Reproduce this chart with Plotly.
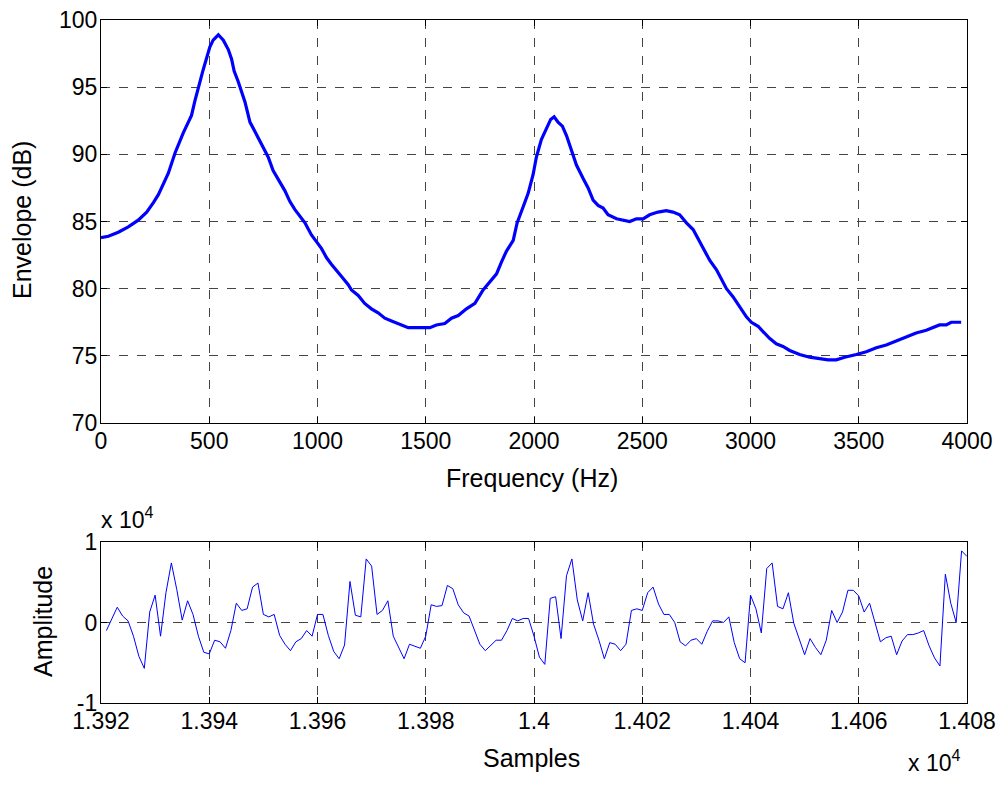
import plotly.graph_objects as go

# ---------------- data ----------------
freq_hz = [0, 34, 80, 126, 172, 211, 242, 265, 311, 342, 380, 418, 434, 449, 472, 503, 518, 542,
           565, 588, 603, 615, 634, 665, 688, 711, 742, 772, 795, 818, 849, 872, 895, 942, 972,
           995, 1018, 1042, 1065, 1111, 1142, 1157, 1188, 1218, 1249, 1280, 1311, 1342, 1373,
           1419, 1457, 1519, 1549, 1588, 1619, 1650, 1688, 1727, 1765, 1796, 1827, 1850, 1873,
           1904, 1922, 1950, 1973, 1996, 2011, 2034, 2057, 2077, 2093, 2111, 2131, 2150, 2173,
           2196, 2227, 2250, 2273, 2296, 2319, 2342, 2381, 2411, 2442, 2473, 2504, 2534, 2573,
           2611, 2642, 2673, 2704, 2735, 2758, 2781, 2812, 2843, 2866, 2889, 2919, 2950, 2981,
           3004, 3035, 3058, 3088, 3119, 3150, 3181, 3227, 3273, 3319, 3358, 3396, 3435, 3489,
           3535, 3581, 3627, 3673, 3719, 3765, 3812, 3842, 3873, 3904, 3927, 3973]
envelope_db = [83.8, 83.9, 84.2, 84.6, 85.1, 85.7, 86.4, 87.0, 88.6, 90.1, 91.6, 92.9, 94.0, 95.0,
               96.3, 98.0, 98.5, 98.9, 98.5, 97.8, 97.1, 96.2, 95.4, 93.9, 92.4, 91.7, 90.7, 89.8,
               88.8, 88.2, 87.3, 86.5, 85.9, 84.9, 84.0, 83.5, 83.0, 82.3, 81.8, 80.9, 80.3, 79.9,
               79.5, 78.9, 78.5, 78.2, 77.8, 77.6, 77.4, 77.1, 77.1, 77.1, 77.3, 77.4, 77.8, 78.0,
               78.5, 78.9, 79.9, 80.5, 81.1, 82.0, 82.8, 83.6, 84.9, 86.1, 87.1, 88.5, 89.8, 91.1,
               91.9, 92.6, 92.8, 92.4, 92.1, 91.4, 90.3, 89.2, 88.2, 87.5, 86.6, 86.2, 86.0, 85.5,
               85.2, 85.1, 85.0, 85.2, 85.2, 85.5, 85.7, 85.8, 85.7, 85.5, 84.9, 84.4, 83.7, 83.0,
               82.1, 81.4, 80.7, 80.0, 79.4, 78.7, 77.9, 77.5, 77.2, 76.8, 76.3, 75.9, 75.7, 75.4,
               75.1, 74.9, 74.8, 74.7, 74.7, 74.9, 75.1, 75.3, 75.6, 75.8, 76.1, 76.4, 76.7, 76.9,
               77.1, 77.3, 77.3, 77.5, 77.5]

first_sample = 13921
amplitude = [-1000, 500, 1900, 800, 200, -1700, -4200, -5700, 1300, 3400,
             -1700, 3700, 7400, 4100, 300, 2700, 1000, -1700, -3700, -3900,
             -2200, -2400, -3200, -1000, 2400, 1500, 1700, 4400, 4900, 1000,
             700, 1000, -1600, -2700, -3500, -2400, -2000, -1000, -1700, 1000,
             1000, -1600, -3600, -4500, -2800, 5100, 900, 700, 7900, 7000,
             1000, 1500, 2700, -1700, -3100, -4500, -2700, -3000, -3200, -1700,
             2200, 2000, 2100, 4600, 4200, 2200, 1200, 800, -1000, -2700,
             -3500, -2800, -2200, -2200, -1000, 500, 200, 500, 500, -1700,
             -4300, -5200, 3000, 3200, -2000, 5800, 7900, 2800, 200, 3700,
             -200, -2200, -4500, -2500, -2700, -3500, -2700, 1500, 1700, 1500,
             3700, 4400, 2300, 1000, 1000, 0, -2400, -2900, -2200, -2000,
             -2700, -1100, 200, 200, 0, 700, -2500, -4500, -5000, 3400,
             1700, -1300, 6700, 7400, 2000, 1700, 3700, -100, -2200, -4000,
             -2000, -3100, -4000, -2200, 1500, 0, 1300, 4000, 4000, 3300,
             1300, 2400, 0, -2400, -1900, -1700, -4000, -2300, -1500, -1500,
             -1300, -1000, -2900, -4400, -5400, 6000, 2400, 0, 8900, 8200]
samples = [first_sample + i for i in range(len(amplitude))]

top_xticks = [0, 500, 1000, 1500, 2000, 2500, 3000, 3500, 4000]
top_yticks = [70, 75, 80, 85, 90, 95, 100]
bot_xticks = [13920, 13940, 13960, 13980, 14000, 14020, 14040, 14060, 14080]
bot_xticktext = ["1.392", "1.394", "1.396", "1.398", "1.4", "1.402", "1.404", "1.406", "1.408"]
bot_yticks = [-10000, 0, 10000]
bot_yticktext = ["-1", "0", "1"]

# ---------------- figure ----------------
PAGE_W, PAGE_H = 1006, 786
OFF = 8                      # default page (body) margin around the plot div
W, H = PAGE_W - 2 * OFF, PAGE_H - 2 * OFF
FONT = "Liberation Sans, Arial, sans-serif"
TICK_SIZE = 23
TITLE_SIZE = 25

fig = go.Figure()
fig.add_trace(go.Scatter(x=freq_hz, y=envelope_db, mode="lines",
                         line=dict(color="#0000ff", width=3.2), xaxis="x", yaxis="y",
                         showlegend=False))
fig.add_trace(go.Scatter(x=samples, y=amplitude, mode="lines",
                         line=dict(color="#0000ff", width=1), xaxis="x2", yaxis="y2",
                         showlegend=False))

def px_x(p):
    return (p - OFF) / W

def px_y(p):
    return 1 - (p - OFF) / H

axis_common = dict(showline=True, linecolor="black", linewidth=1.2, mirror="ticks",
                   ticks="inside", ticklen=6, tickcolor="black", tickwidth=1,
                   showgrid=True, gridcolor="#444444", griddash="dash", gridwidth=1,
                   zeroline=False, automargin=False, ticklabeloverflow="allow",
                   tickfont=dict(family=FONT, size=TICK_SIZE, color="black"))
x_common = dict(axis_common, ticklabelstandoff=-3)
y_common = dict(axis_common, ticklabelstandoff=-2)

fig.update_layout(
    width=W, height=H,
    margin=dict(l=0, r=0, t=0, b=0),
    paper_bgcolor="white", plot_bgcolor="white",
    font=dict(family=FONT, size=TICK_SIZE, color="black"),
    xaxis=dict(domain=[px_x(101), px_x(967)], range=[0, 4000], tickvals=top_xticks,
               anchor="y", **x_common),
    yaxis=dict(domain=[px_y(423), px_y(20)], range=[70, 100], tickvals=top_yticks,
               anchor="x", **y_common),
    xaxis2=dict(domain=[px_x(101), px_x(967)], range=[13920, 14080], tickvals=bot_xticks,
                ticktext=bot_xticktext, anchor="y2", **x_common),
    yaxis2=dict(domain=[px_y(703), px_y(542)], range=[-10000, 10000], tickvals=bot_yticks,
                ticktext=bot_yticktext, anchor="x2", **y_common),
)

ann = dict(xref="paper", yref="paper", showarrow=False,
           font=dict(family=FONT, size=TITLE_SIZE, color="black"))
fig.add_annotation(text="Frequency (Hz)", x=px_x(532), y=px_y(478), xanchor="center",
                   yanchor="middle", **ann)
fig.add_annotation(text="Envelope (dB)", x=px_x(22), y=px_y(220), xanchor="center",
                   yanchor="middle", textangle=-90, **ann)
fig.add_annotation(text="Samples", x=px_x(531), y=px_y(758), xanchor="center",
                   yanchor="middle", **ann)
fig.add_annotation(text="Amplitude", x=px_x(43), y=px_y(622), xanchor="center",
                   yanchor="middle", textangle=-90, **ann)
ann_small = dict(ann)
ann_small["font"] = dict(family=FONT, size=TICK_SIZE, color="black")
fig.add_annotation(text="x 10<sup>4</sup>", x=px_x(99), y=px_y(518), xanchor="left",
                   yanchor="middle", **ann_small)
fig.add_annotation(text="x 10<sup>4</sup>", x=px_x(906), y=px_y(761), xanchor="left",
                   yanchor="middle", **ann_small)

fig.write_html("out.html")
